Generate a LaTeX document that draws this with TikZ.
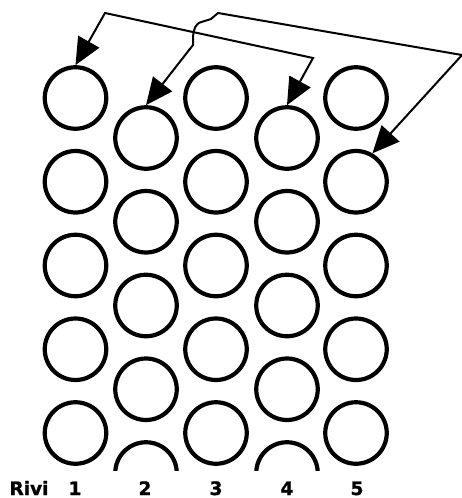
\documentclass[tikz,border=0pt]{standalone}
\usepackage{fontspec}
\newfontface\labfont{DejaVu Sans Bold}[FakeBold=1.2]
\usetikzlibrary{arrows.meta}
\tikzset{
  ring/.style={draw, circle, line width=4.2pt, minimum size=61.5pt, inner sep=0pt},
  arr/.style={line width=2pt, line join=miter,
    {Triangle[length=27pt,width=24pt]}-{Triangle[length=27pt,width=24pt]}},
  lab/.style={font=\labfont\fontsize{18.5}{18.5}\selectfont, inner sep=0pt, anchor=base}
}
\begin{document}
\begin{tikzpicture}[x=1pt,y=-1pt]
\useasboundingbox (0,0) rectangle (462,498);
\begin{scope}
\clip (0,0) rectangle (462,470);
\foreach \c/\x in {1/75.5,3/216,5/356}{
  \foreach \r in {1,...,5}{
    \node[ring] (c\c\r) at (\x,{98+(\r-1)*83.75}) {};
  }
}
\foreach \c/\x in {2/146,4/287}{
  \foreach \r in {1,...,5}{
    \node[ring] (c\c\r) at (\x,{138+(\r-1)*83.75}) {};
  }
}
\end{scope}
% connectors
\coordinate (a1) at (105,13);
\coordinate (a2) at (313,58);
\draw[arr] (c11.north) -- (a1) -- (a2) -- (c41.north);
\coordinate (b1) at (193,45);
\coordinate (b2) at (193,36);
\coordinate (b3) at (196,26);
\coordinate (b4) at (203,21.5);
\coordinate (b5) at (211,19);
\coordinate (b6) at (218,13);
\coordinate (b7) at (462,55);
\draw[arr] (c21.north) -- (b1) -- (b2) .. controls (194,30) and (195,27) .. (b3)
  .. controls (198,23) and (200,22) .. (b4) -- (b5) -- (b6) -- (b7) -- (c52.60);
% labels
\node[lab] (rivi) at (29,495) {Rivi};
\node[lab] (n1) at (75,495) {1};
\node[lab] (n2) at (145,495) {2};
\node[lab] (n3) at (216,495) {3};
\node[lab] (n4) at (287,495) {4};
\node[lab] (n5) at (357,495) {5};
\end{tikzpicture}
\end{document}
